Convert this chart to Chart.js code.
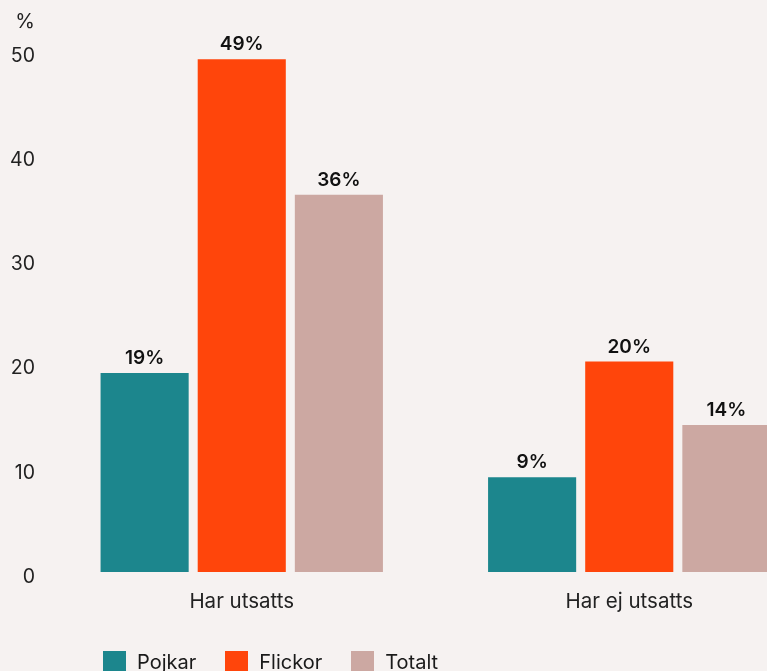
<!DOCTYPE html>
<html>
<head>
<meta charset="utf-8">
<script src="https://cdn.jsdelivr.net/npm/chart.js@4/dist/chart.umd.min.js"></script>
<style>
html,body{margin:0;padding:0;background:#f6f2f1;overflow:hidden;width:767px;height:671px;}
#wrap{position:absolute;left:0;top:0;width:823px;height:671px;}
#legend{position:absolute;left:103px;top:651px;display:flex;font-family:Inter,"Open Sans",sans-serif;font-size:20px;color:#1a1a1a;line-height:23px;}
.item{display:flex;align-items:center;margin-right:29px;}
.box{width:23px;height:23px;margin-right:11px;}
</style>
</head>
<body>
<div id="wrap"><canvas id="c" width="823" height="671"></canvas></div>
<div id="legend"></div>
<script>
const categories = ["Har utsatts", "Har ej utsatts"];
const seriesNames = ["Pojkar", "Flickor", "Totalt"];
const pojkar = [19.1, 9.1];
const flickor = [49.2, 20.2];
const totalt = [36.2, 14.1];
const yTicks = [0, 10, 20, 30, 40, 50];
const colors = ["#1c868d", "#ff450b", "#cca8a2"];
const FONT = "Inter, 'Open Sans', sans-serif";

const labelPlugin = {
  id: "valueLabels",
  afterDatasetsDraw(chart) {
    const ctx = chart.ctx;
    ctx.save();
    ctx.font = "600 19px " + FONT;
    ctx.fillStyle = "#111";
    ctx.textAlign = "center";
    ctx.textBaseline = "alphabetic";
    chart.data.datasets.forEach((ds, di) => {
      const meta = chart.getDatasetMeta(di);
      meta.data.forEach((bar, i) => {
        ctx.fillText(Math.round(ds.data[i]) + "%", bar.x, bar.y - 9);
      });
    });
    // unit label above y axis
    ctx.font = "20px " + FONT;
    ctx.fillStyle = "#222";
    ctx.textAlign = "right";
    ctx.textBaseline = "middle";
    ctx.fillText("%", 35, 22);
    ctx.restore();
  }
};

const seriesData = [pojkar, flickor, totalt];
new Chart(document.getElementById("c"), {
  type: "bar",
  data: {
    labels: categories,
    datasets: seriesNames.map((n, i) => ({
      label: n,
      data: seriesData[i],
      backgroundColor: colors[i],
      borderWidth: 0,
      categoryPercentage: 0.752,
      barPercentage: 0.907
    }))
  },
  options: {
    responsive: false,
    animation: false,
    layout: { padding: { top: 51, right: 0, left: 0, bottom: 0 } },
    plugins: { legend: { display: false }, tooltip: { enabled: false } },
    scales: {
      x: {
        grid: { display: false, drawTicks: false },
        border: { display: false },
        ticks: { font: { family: FONT, size: 20.5 }, color: "#222", padding: 18 },
        afterFit(s) { s.height = 99; }
      },
      y: {
        min: 0, max: 50,
        afterBuildTicks(s) { s.ticks = yTicks.map(v => ({ value: v })); },
        grid: { display: false, drawTicks: false },
        border: { display: false },
        ticks: { font: { family: FONT, size: 19.5 }, color: "#222", padding: 13, labelOffset: 5 },
        afterFit(s) { s.width = 48; }
      }
    }
  },
  plugins: [labelPlugin]
});

const legend = document.getElementById("legend");
seriesNames.forEach((n, i) => {
  const it = document.createElement("div");
  it.className = "item";
  const b = document.createElement("div");
  b.className = "box";
  b.style.background = colors[i];
  const t = document.createElement("span");
  t.textContent = n;
  it.appendChild(b); it.appendChild(t);
  legend.appendChild(it);
});
</script>
</body>
</html>
